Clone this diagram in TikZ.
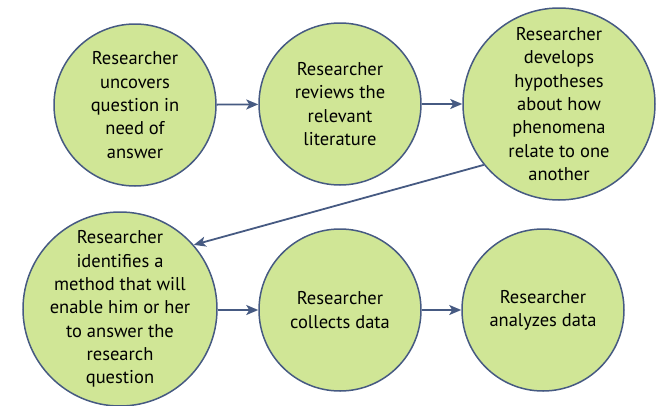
\documentclass[tikz,border=0pt]{standalone}
\usepackage{fontspec}
\setmainfont{PT Sans}
\usepackage{tikz}
\usetikzlibrary{arrows.meta}

\definecolor{stagefill}{HTML}{D0E696}
\definecolor{stageline}{HTML}{465A82}

\begin{document}
\begin{tikzpicture}[x=1pt, y=-1pt,
        stage/.style={circle, draw=stageline, fill=stagefill, line width=1.5pt,
            inner sep=-20pt, align=center, font=\fontsize{18.5}{23.3}\selectfont},
        flow/.style={-{Stealth[length=12pt, width=10pt, inset=3pt]}, draw=stageline, line width=1.8pt}]
                        \useasboundingbox (0, 0) rectangle (662, 405);
                        % top row
                        \node[stage, minimum size=162pt] (uncover) at (135, 105){Researcher\\uncovers\\question in\\need of\\answer};
                        \node[stage, minimum size=162pt] (review) at (340, 104){Researcher\\reviews the\\relevant\\literature};
                        \node[stage, minimum size=192pt] (hypo) at (559, 104){Researcher\\develops\\hypotheses\\about how\\phenomena\\relate to one\\another};
                        % bottom row
                        \node[stage, minimum size=194pt] (method) at (120, 309){Researcher\\identifies a\\method that will\\enable him or her\\to answer the\\research\\question};
                        \node[stage, minimum size=162pt] (collect) at (340, 310){Researcher\\collects data};
                        \node[stage, minimum size=162pt] (analyze) at (543, 310){Researcher\\analyzes data};
                        % arrows
                        \draw[flow] (uncover) -- (review);
                        \draw[flow] (review) -- (hypo.west |- review);
                        \draw[flow] (hypo.219) -- (method.41);
                        \draw[flow] (method.east |- collect) -- (collect);
                        \draw[flow] (collect) -- (analyze);
                \end{tikzpicture}
\end{document}
